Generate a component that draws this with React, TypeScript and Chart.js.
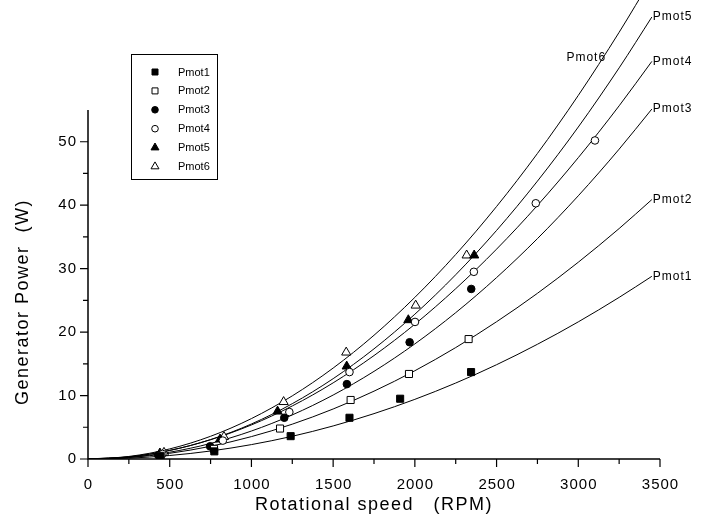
import React, { useEffect, useRef } from 'react';
import { Chart, registerables } from 'chart.js';

Chart.register(...registerables);

// Speed grid (RPM) at which the fitted generator power curves are tabulated
const fitSpeeds = [0, 250, 500, 750, 1000, 1250, 1500, 1750, 2000, 2250, 2500, 2750, 3000, 3250, 3450];

// Fitted generator power (W) for each motor power setting
const fitPmot1 = [0, 0.13, 0.55, 1.26, 2.27, 3.58, 5.21, 7.15, 9.4, 11.97, 14.86, 18.08, 21.61, 25.47, 28.79];
const fitPmot2 = [0, 0.23, 0.9, 2.0, 3.53, 5.49, 7.88, 10.69, 13.91, 17.56, 21.63, 26.11, 31.01, 36.32, 40.88];
const fitPmot3 = [0, 0.26, 1.07, 2.45, 4.41, 6.95, 10.08, 13.81, 18.14, 23.06, 28.59, 34.73, 41.48, 48.83, 55.15];
const fitPmot4 = [0, 0.34, 1.36, 3.04, 5.37, 8.36, 12.0, 16.3, 21.24, 26.84, 33.07, 39.96, 47.49, 55.66, 62.66];
const fitPmot5 = [0, 0.32, 1.34, 3.06, 5.52, 8.72, 12.66, 17.36, 22.82, 29.04, 36.02, 43.79, 52.32, 61.64, 69.65];
const fitPmot6 = [0, 0.4, 1.59, 3.58, 6.37, 9.95, 14.33, 19.5, 25.47, 32.23, 39.79, 48.15, 57.3, 67.25, 75.78];

// Measured points: rotational speed (RPM) and generator power (W)
const speedPmot1 = [440, 773, 1240, 1600, 1910, 2344];
const powerPmot1 = [0.4, 1.2, 3.6, 6.5, 9.5, 13.7];
const speedPmot2 = [445, 771, 1175, 1607, 1964, 2329];
const powerPmot2 = [0.5, 1.6, 4.8, 9.3, 13.4, 18.9];
const speedPmot3 = [430, 747, 1201, 1584, 1968, 2345];
const powerPmot3 = [0.6, 2.0, 6.5, 11.8, 18.4, 26.8];
const speedPmot4 = [455, 825, 1232, 1600, 2001, 2361, 2740, 3102];
const powerPmot4 = [0.8, 2.9, 7.4, 13.7, 21.6, 29.5, 40.3, 50.2];
const speedPmot5 = [440, 808, 1160, 1583, 1960, 2363];
const powerPmot5 = [0.9, 3.1, 7.5, 14.6, 21.9, 32.1];
const speedPmot6 = [465, 832, 1197, 1580, 2005, 2317];
const powerPmot6 = [1.0, 3.5, 9.0, 16.8, 24.2, 32.1];

const seriesNames = ['Pmot1', 'Pmot2', 'Pmot3', 'Pmot4', 'Pmot5', 'Pmot6'];

// Axis ticks
const xMajorTicks = [0, 500, 1000, 1500, 2000, 2500, 3000, 3500];
const xMinorTicks = [250, 750, 1250, 1750, 2250, 2750, 3250];
const yMajorTicks = [0, 10, 20, 30, 40, 50];
const yMinorTicks = [5, 15, 25, 35, 45];

const X_MAX = 3500;
const Y_MAX = 55;

type Marker = { shape: 'rect' | 'circle' | 'triangle'; filled: boolean; radius: number };
const markers: Marker[] = [
  { shape: 'rect', filled: true, radius: 5 },
  { shape: 'rect', filled: false, radius: 5 },
  { shape: 'circle', filled: true, radius: 3.8 },
  { shape: 'circle', filled: false, radius: 3.8 },
  { shape: 'triangle', filled: true, radius: 5.3 },
  { shape: 'triangle', filled: false, radius: 5.3 },
];

const FONT = '"Liberation Sans", Arial, Helvetica, sans-serif';

const pairs = (xs: number[], ys: number[]) => xs.map((x, i) => ({ x, y: ys[i] }));

const fits = [fitPmot1, fitPmot2, fitPmot3, fitPmot4, fitPmot5, fitPmot6];
const speeds = [speedPmot1, speedPmot2, speedPmot3, speedPmot4, speedPmot5, speedPmot6];
const powers = [powerPmot1, powerPmot2, powerPmot3, powerPmot4, powerPmot5, powerPmot6];

function drawLegendMarker(ctx: CanvasRenderingContext2D, m: Marker, cx: number, cy: number) {
  ctx.beginPath();
  if (m.shape === 'rect') {
    const h = 3;
    ctx.rect(cx - h, cy - h, 2 * h, 2 * h);
  } else if (m.shape === 'circle') {
    ctx.arc(cx, cy, 3.3, 0, Math.PI * 2);
  } else {
    const r = 4.6;
    ctx.moveTo(cx, cy - r);
    ctx.lineTo(cx + r * Math.sin((2 * Math.PI) / 3), cy - r * Math.cos((2 * Math.PI) / 3));
    ctx.lineTo(cx + r * Math.sin((4 * Math.PI) / 3), cy - r * Math.cos((4 * Math.PI) / 3));
    ctx.closePath();
  }
  ctx.fillStyle = m.filled ? '#000' : '#fff';
  ctx.fill();
  ctx.lineWidth = 1;
  ctx.strokeStyle = '#000';
  ctx.stroke();
}

const decorPlugin = {
  id: 'powerDecor',
  beforeDatasetsDraw(chart: any) {
    const { ctx } = chart;
    const xs = chart.scales.x;
    const ys = chart.scales.y;
    const x0 = xs.getPixelForValue(0);
    const x1 = xs.getPixelForValue(X_MAX);
    const y0 = ys.getPixelForValue(0);
    const yTop = ys.getPixelForValue(Y_MAX);

    ctx.save();
    ctx.strokeStyle = '#000';
    ctx.lineWidth = 1.5;
    ctx.beginPath();
    ctx.moveTo(x0, yTop);
    ctx.lineTo(x0, y0);
    ctx.lineTo(x1, y0);
    ctx.stroke();

    ctx.lineWidth = 1.2;
    ctx.beginPath();
    xMajorTicks.forEach((v) => {
      const px = xs.getPixelForValue(v);
      ctx.moveTo(px, y0);
      ctx.lineTo(px, y0 + 8);
    });
    xMinorTicks.forEach((v) => {
      const px = xs.getPixelForValue(v);
      ctx.moveTo(px, y0);
      ctx.lineTo(px, y0 + 5);
    });
    yMajorTicks.forEach((v) => {
      const py = ys.getPixelForValue(v);
      ctx.moveTo(x0, py);
      ctx.lineTo(x0 - 8, py);
    });
    yMinorTicks.forEach((v) => {
      const py = ys.getPixelForValue(v);
      ctx.moveTo(x0, py);
      ctx.lineTo(x0 - 5, py);
    });
    ctx.stroke();

    // Tick labels
    ctx.fillStyle = '#000';
    ctx.font = `15px ${FONT}`;
    (ctx as any).letterSpacing = '1px';
    ctx.textAlign = 'center';
    ctx.textBaseline = 'middle';
    xMajorTicks.forEach((v) => {
      ctx.fillText(String(v), xs.getPixelForValue(v) + 0.5, y0 + 26);
    });
    ctx.textAlign = 'right';
    yMajorTicks.forEach((v) => {
      ctx.fillText(String(v), x0 - 11, ys.getPixelForValue(v));
    });

    // Axis titles
    ctx.font = `18px ${FONT}`;
    (ctx as any).letterSpacing = '1.5px';
    ctx.textAlign = 'center';
    ctx.fillText('Rotational speed   (RPM)', (x0 + x1) / 2, 505);
    ctx.save();
    ctx.translate(23, 302);
    ctx.rotate(-Math.PI / 2);
    ctx.fillText('Generator Power  (W)', 0, 0);
    ctx.restore();
    ctx.restore();
  },
  afterDatasetsDraw(chart: any) {
    const { ctx } = chart;
    const xs = chart.scales.x;
    const ys = chart.scales.y;
    ctx.save();
    ctx.fillStyle = '#000';
    ctx.textBaseline = 'middle';

    // Curve-end labels
    ctx.font = `12px ${FONT}`;
    (ctx as any).letterSpacing = '1px';
    ctx.textAlign = 'left';
    const lastSpeed = fitSpeeds[fitSpeeds.length - 1];
    for (let i = 0; i < 5; i++) {
      const curve = fits[i];
      const px = xs.getPixelForValue(lastSpeed);
      const py = ys.getPixelForValue(curve[curve.length - 1]);
      ctx.fillText(seriesNames[i], px + 1, py);
    }
    // The steepest curve leaves the top of the plot, so its label sits beside it
    ctx.textAlign = 'right';
    ctx.fillText(seriesNames[5], xs.getPixelForValue(3170), ys.getPixelForValue(63.2));

    // Legend box
    const bx = 131;
    const by = 54;
    const bw = 86;
    const bh = 125;
    ctx.lineWidth = 1;
    ctx.strokeStyle = '#000';
    ctx.strokeRect(bx + 0.5, by + 0.5, bw, bh);
    ctx.font = `11px ${FONT}`;
    (ctx as any).letterSpacing = '0px';
    ctx.textAlign = 'left';
    seriesNames.forEach((name, i) => {
      const cy = 72 + i * 18.9;
      drawLegendMarker(ctx, markers[i], 155, cy);
      ctx.fillStyle = '#000';
      ctx.fillText(name, 178, cy + 0.5);
    });
    ctx.restore();
  },
};

export default function App() {
  const canvasRef = useRef<HTMLCanvasElement | null>(null);

  useEffect(() => {
    const canvas = canvasRef.current;
    if (!canvas) return;

    const curveSets = fits.map((curve, i) => ({
      label: `${seriesNames[i]} fit`,
      data: pairs(fitSpeeds, curve),
      showLine: true,
      borderColor: '#000',
      borderWidth: 1,
      pointRadius: 0,
      cubicInterpolationMode: 'monotone' as const,
      clip: { left: 0, top: false, right: false, bottom: 0 } as any,
      order: 1,
    }));

    const pointSets = speeds.map((xs, i) => ({
      label: seriesNames[i],
      data: pairs(xs, powers[i]),
      showLine: false,
      pointStyle: markers[i].shape,
      pointRadius: markers[i].radius,
      pointBackgroundColor: markers[i].filled ? '#000' : '#fff',
      pointBorderColor: '#000',
      pointBorderWidth: 1,
      order: 0,
    }));

    const chart = new Chart(canvas, {
      type: 'scatter',
      data: { datasets: [...curveSets, ...pointSets] as any },
      options: {
        animation: false,
        responsive: false,
        maintainAspectRatio: false,
        devicePixelRatio: 1,
        layout: { padding: { left: 88, right: 41, top: 110, bottom: 61 } },
        plugins: { legend: { display: false }, tooltip: { enabled: false } },
        events: [],
        scales: {
          x: { type: 'linear', min: 0, max: X_MAX, display: false },
          y: { type: 'linear', min: 0, max: Y_MAX, display: false },
        },
      },
      plugins: [decorPlugin],
    });

    return () => chart.destroy();
  }, []);

  return (
    <div style={{ position: 'absolute', left: 0, top: 0, width: 701, height: 520, background: '#fff' }}>
      <canvas ref={canvasRef} width={701} height={520} style={{ display: 'block', width: 701, height: 520 }} />
    </div>
  );
}
